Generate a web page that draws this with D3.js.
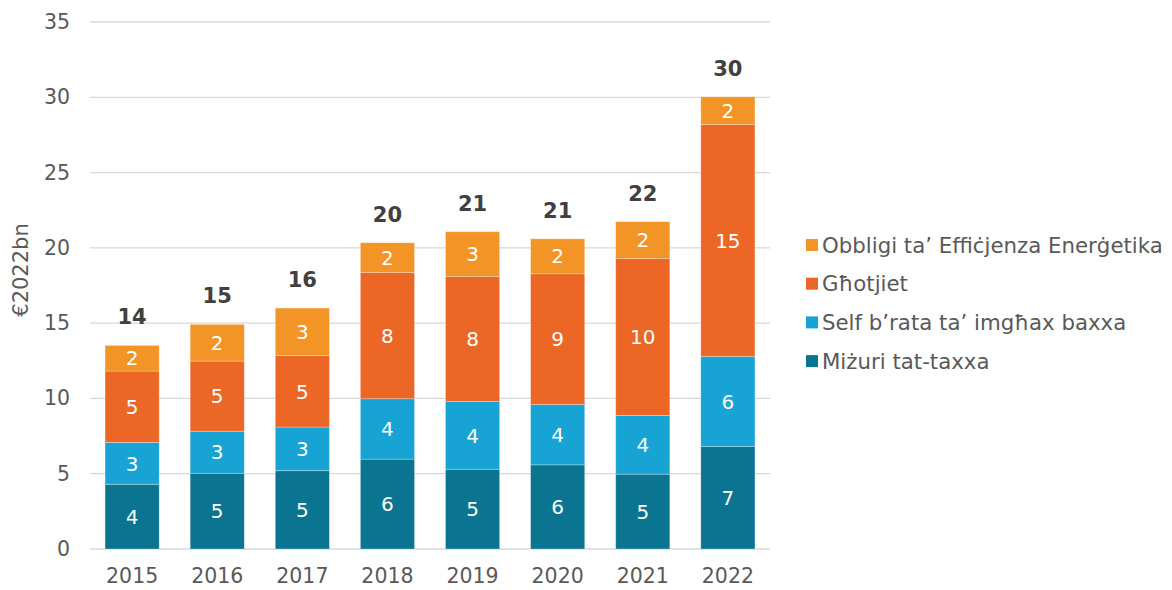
<!DOCTYPE html>
<html>
<head>
<meta charset="utf-8">
<script src="https://cdn.jsdelivr.net/npm/d3@7"></script>
<style>
  body { margin: 0; background: #fff; }
  svg { font-family: "DejaVu Sans", Verdana, sans-serif; }
</style>
</head>
<body>
<svg id="chart" width="1172" height="590"></svg>
<script>
// data (€2022bn)
const years = ["2015", "2016", "2017", "2018", "2019", "2020", "2021", "2022"];
const mizuri = [4.3, 5.03, 5.2, 5.97, 5.3, 5.59, 4.97, 6.81];
const selfRata = [2.78, 2.79, 2.9, 4.01, 4.49, 4.01, 3.9, 5.98];
const ghotjiet = [4.74, 4.66, 4.74, 8.38, 8.31, 8.68, 10.42, 15.4];
const obbligi = [1.7, 2.44, 3.16, 1.98, 2.97, 2.32, 2.45, 1.84];
const seriesNames = ["Miżuri tat-taxxa", "Self b’rata ta’ imgħax baxxa", "Għotjiet", "Obbligi ta’ Effiċjenza Enerġetika"];
const seriesColors = ["#0b7591", "#17a3d4", "#ec6726", "#f39427"];
const yTicks = [0, 5, 10, 15, 20, 25, 30, 35];

const svg = d3.select("#chart");
const plotLeft = 90, plotRight = 770, plotTop = 22, plotBottom = 549;

const x = d3.scaleBand().domain(years).range([plotLeft, plotRight]).paddingInner(0.364).paddingOuter(0.177);
const y = d3.scaleLinear().domain([0, 35]).range([plotBottom, plotTop]);

const rows = years.map((yr, i) => ({
  year: yr, s0: mizuri[i], s1: selfRata[i], s2: ghotjiet[i], s3: obbligi[i]
}));
const keys = ["s0", "s1", "s2", "s3"];
const stacked = d3.stack().keys(keys)(rows);

// gridlines
svg.append("g")
   .selectAll("line")
   .data(yTicks)
   .enter()
   .append("line")
   .attr("x1", plotLeft).attr("x2", plotRight)
   .attr("y1", d => y(d)).attr("y2", d => y(d))
   .attr("stroke", "#d9d9d9")
   .attr("stroke-width", 1.3);

// y axis labels
const yAxis = d3.axisLeft(y).tickValues(yTicks).tickSize(0).tickPadding(20);
const yg = svg.append("g").attr("transform", `translate(${plotLeft}, 0)`).call(yAxis);
yg.select(".domain").remove();
yg.selectAll("text")
  .attr("fill", "#595959")
  .style("font-size", "20.5px")
  .style("font-family", "DejaVu Sans, Verdana, sans-serif");

// x axis labels
const xAxis = d3.axisBottom(x).tickSize(0).tickPadding(19);
const xg = svg.append("g").attr("transform", `translate(0, ${plotBottom})`).call(xAxis);
xg.select(".domain").remove();
xg.selectAll("text")
  .attr("fill", "#595959")
  .style("font-size", "20.5px")
  .style("font-family", "DejaVu Sans, Verdana, sans-serif");

// axis title
svg.append("text")
   .attr("transform", "translate(28, 270) rotate(-90)")
   .attr("text-anchor", "middle")
   .attr("fill", "#595959")
   .style("font-size", "21px")
   .text("€2022bn");

// bars
const layers = svg.append("g")
   .selectAll("g")
   .data(stacked)
   .enter()
   .append("g")
   .attr("fill", (d, i) => seriesColors[i]);

layers.selectAll("rect")
   .data(d => d)
   .enter()
   .append("rect")
   .attr("x", d => x(d.data.year))
   .attr("y", d => y(d[1]))
   .attr("width", x.bandwidth())
   .attr("height", d => y(d[0]) - y(d[1]))
   .attr("stroke", "#ffffff")
   .attr("stroke-opacity", 0.35)
   .attr("stroke-width", 0.8);

// segment labels
layers.selectAll("text")
   .data(d => d)
   .enter()
   .append("text")
   .attr("x", d => x(d.data.year) + x.bandwidth() / 2)
   .attr("y", d => (y(d[0]) + y(d[1])) / 2)
   .attr("dy", "0.36em")
   .attr("text-anchor", "middle")
   .attr("fill", "#ffffff")
   .style("font-size", "20px")
   .text(d => Math.round(d[1] - d[0]));

// totals
svg.append("g")
   .selectAll("text")
   .data(rows)
   .enter()
   .append("text")
   .attr("x", d => x(d.year) + x.bandwidth() / 2)
   .attr("y", d => y(d.s0 + d.s1 + d.s2 + d.s3) - 21)
   .attr("text-anchor", "middle")
   .attr("fill", "#404040")
   .style("font-size", "21px")
   .style("font-weight", "bold")
   .text(d => Math.round(d.s0 + d.s1 + d.s2 + d.s3));

// legend (top item = last series)
const legendOrder = [3, 2, 1, 0];
const legend = svg.append("g")
   .selectAll("g")
   .data(legendOrder)
   .enter()
   .append("g")
   .attr("transform", (d, i) => `translate(806, ${245 + i * 38.7})`);

legend.append("rect")
   .attr("x", 0).attr("y", -6)
   .attr("width", 12).attr("height", 12)
   .attr("fill", d => seriesColors[d]);

legend.append("text")
   .attr("x", 16)
   .attr("dy", "0.36em")
   .attr("fill", "#595959")
   .style("font-size", "21.3px")
   .text(d => seriesNames[d]);
</script>
</body>
</html>
